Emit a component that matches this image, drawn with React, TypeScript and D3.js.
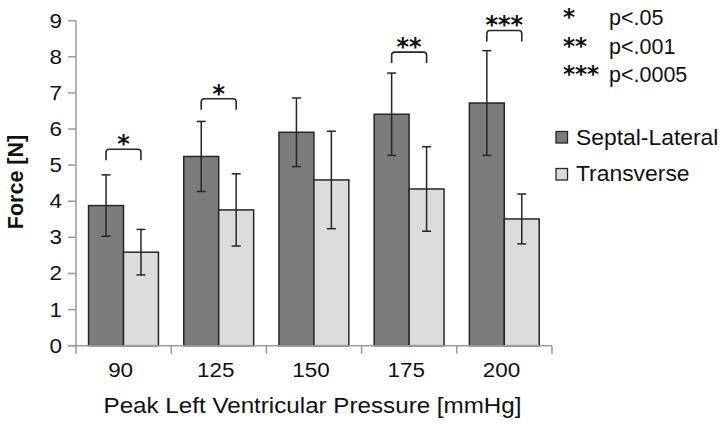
import React from "react";
import * as d3 from "d3";

const categories = ["90", "125", "150", "175", "200"];
const seriesNames = ["Septal-Lateral", "Transverse"];
const septalLateral = [3.88, 5.24, 5.91, 6.41, 6.72];
const septalLateralErr = [0.85, 0.97, 0.95, 1.14, 1.45];
const transverse = [2.59, 3.76, 4.59, 4.34, 3.51];
const transverseErr = [0.63, 1.0, 1.35, 1.17, 0.69];
const yTicks = [0, 1, 2, 3, 4, 5, 6, 7, 8, 9];
// significance brackets: category index, bracket level (N), stars
const sigCategory = [0, 1, 3, 4];
const sigLevel = [5.44, 6.84, 8.13, 8.73];
const sigStars = ["*", "*", "**", "***"];
const pLegendStars = ["*", "**", "***"];
const pLegendText = ["p<.05", "p<.001", "p<.0005"];

const W = 722;
const H = 424;
const FONT = "'Liberation Sans', Arial, sans-serif";
const STAR_FONT = "'DejaVu Sans', sans-serif";
const colors = ["#7c7c7c", "#dcdcdc"];

function SText(props: {
  x: number;
  y: number;
  sx?: number;
  anchor?: string;
  size: number;
  weight?: string;
  children: React.ReactNode;
}) {
  const { x, y, sx = 1, anchor = "start", size, weight = "normal", children } = props;
  return (
    <text
      transform={`translate(${x},${y}) scale(${sx},1)`}
      textAnchor={anchor}
      fontSize={size}
      fontWeight={weight}
      fill="#111"
    >
      {children}
    </text>
  );
}

export default function App() {
  const left = 76;
  const right = 552;
  const y = d3.scaleLinear().domain([0, 9]).range([345.7, 20.7]);
  const x0 = d3.scaleBand<string>().domain(categories).range([left, right]).padding(0);
  const bw = x0.bandwidth();
  const x1 = d3
    .scaleBand<string>()
    .domain(seriesNames)
    .range([bw * 0.132, bw * 0.866])
    .padding(0);
  const values = [septalLateral, transverse];
  const errs = [septalLateralErr, transverseErr];
  const stroke = "#262626";
  const axisColor = "#9a9a9a";

  return (
    <svg
      width={W}
      height={H}
      style={{ position: "absolute", left: 0, top: 0, background: "#fff" }}
      fontFamily={FONT}
    >
      <rect x={0} y={0} width={W} height={H} fill="#fff" />
      {/* y axis */}
      <line x1={left} x2={left} y1={y(9)} y2={y(0)} stroke={axisColor} strokeWidth={1.5} />
      {yTicks.map((t) => (
        <g key={t}>
          <line x1={left - 8} x2={left} y1={y(t)} y2={y(t)} stroke={axisColor} strokeWidth={1.5} />
          <SText x={62} y={y(t) + 7} sx={1.15} anchor="end" size={19.5}>
            {t}
          </SText>
        </g>
      ))}
      {/* bars */}
      {categories.map((c, i) => (
        <g key={c} transform={`translate(${x0(c)},0)`}>
          {seriesNames.map((s, k) => {
            const v = values[k][i];
            const e = errs[k][i];
            const bx = x1(s)!;
            const cx = bx + x1.bandwidth() / 2;
            return (
              <g key={s}>
                <rect
                  x={bx}
                  y={y(v)}
                  width={x1.bandwidth()}
                  height={y(0) - y(v)}
                  fill={colors[k]}
                  stroke={stroke}
                  strokeWidth={1.5}
                />
                <line x1={cx} x2={cx} y1={y(v + e)} y2={y(v - e)} stroke={stroke} strokeWidth={1.5} />
                <line x1={cx - 4.5} x2={cx + 4.5} y1={y(v + e)} y2={y(v + e)} stroke={stroke} strokeWidth={1.5} />
                <line x1={cx - 4.5} x2={cx + 4.5} y1={y(v - e)} y2={y(v - e)} stroke={stroke} strokeWidth={1.5} />
              </g>
            );
          })}
        </g>
      ))}
      {/* x axis */}
      <line x1={left - 8} x2={right} y1={y(0)} y2={y(0)} stroke={axisColor} strokeWidth={1.5} />
      {categories.map((c) => (
        <line
          key={"t" + c}
          x1={x0(c)!}
          x2={x0(c)!}
          y1={y(0)}
          y2={y(0) + 8}
          stroke={axisColor}
          strokeWidth={1.5}
        />
      ))}
      <line x1={right} x2={right} y1={y(0)} y2={y(0) + 8} stroke={axisColor} strokeWidth={1.5} />
      {categories.map((c) => (
        <SText key={"l" + c} x={x0(c)! + bw / 2 - 3} y={377} sx={1.15} anchor="middle" size={19.5}>
          {c}
        </SText>
      ))}
      {/* significance brackets */}
      {sigCategory.map((ci, j) => {
        const c = categories[ci];
        const xa = x0(c)! + x1(seriesNames[0])! + x1.bandwidth() / 2;
        const xb = x0(c)! + x1(seriesNames[1])! + x1.bandwidth() / 2;
        const yt = y(sigLevel[j]);
        const yb = yt + 11;
        const r = 3;
        const p = d3.path();
        p.moveTo(xa, yb);
        p.lineTo(xa, yt + r);
        p.quadraticCurveTo(xa, yt, xa + r, yt);
        p.lineTo(xb - r, yt);
        p.quadraticCurveTo(xb, yt, xb, yt + r);
        p.lineTo(xb, yb);
        return (
          <g key={"s" + j}>
            <path d={p.toString()} fill="none" stroke={stroke} strokeWidth={1.6} />
            <text
              x={(xa + xb) / 2}
              y={yt + 3}
              textAnchor="middle"
              fontSize={24}
              fontWeight="bold"
              fontFamily={STAR_FONT}
              fill="#111"
            >
              {sigStars[j]}
            </text>
          </g>
        );
      })}
      {/* p-value legend */}
      {pLegendText.map((t, j) => (
        <text key={"p" + j} x={563} y={25 + j * 28.5} fontSize={21.5} fill="#111">
          <tspan fontFamily={STAR_FONT} fontWeight="bold" fontSize={23}>
            {pLegendStars[j]}
          </tspan>
          <tspan x={609}>{t}</tspan>
        </text>
      ))}
      {/* series legend */}
      {seriesNames.map((s, k) => (
        <g key={"lg" + s}>
          <rect
            x={556}
            y={131.5 + k * 37}
            width={11.5}
            height={11.5}
            fill={colors[k]}
            stroke={stroke}
            strokeWidth={1.3}
          />
          <SText x={576} y={145 + k * 36} sx={1.04} size={22}>
            {s}
          </SText>
        </g>
      ))}
      {/* axis titles */}
      <SText x={312.5} y={413} sx={1.1} anchor="middle" size={22}>
        Peak Left Ventricular Pressure [mmHg]
      </SText>
      <text
        transform={`translate(23,182) rotate(-90)`}
        textAnchor="middle"
        fontSize={21.5}
        fontWeight="bold"
        fill="#111"
      >
        Force [N]
      </text>
    </svg>
  );
}
